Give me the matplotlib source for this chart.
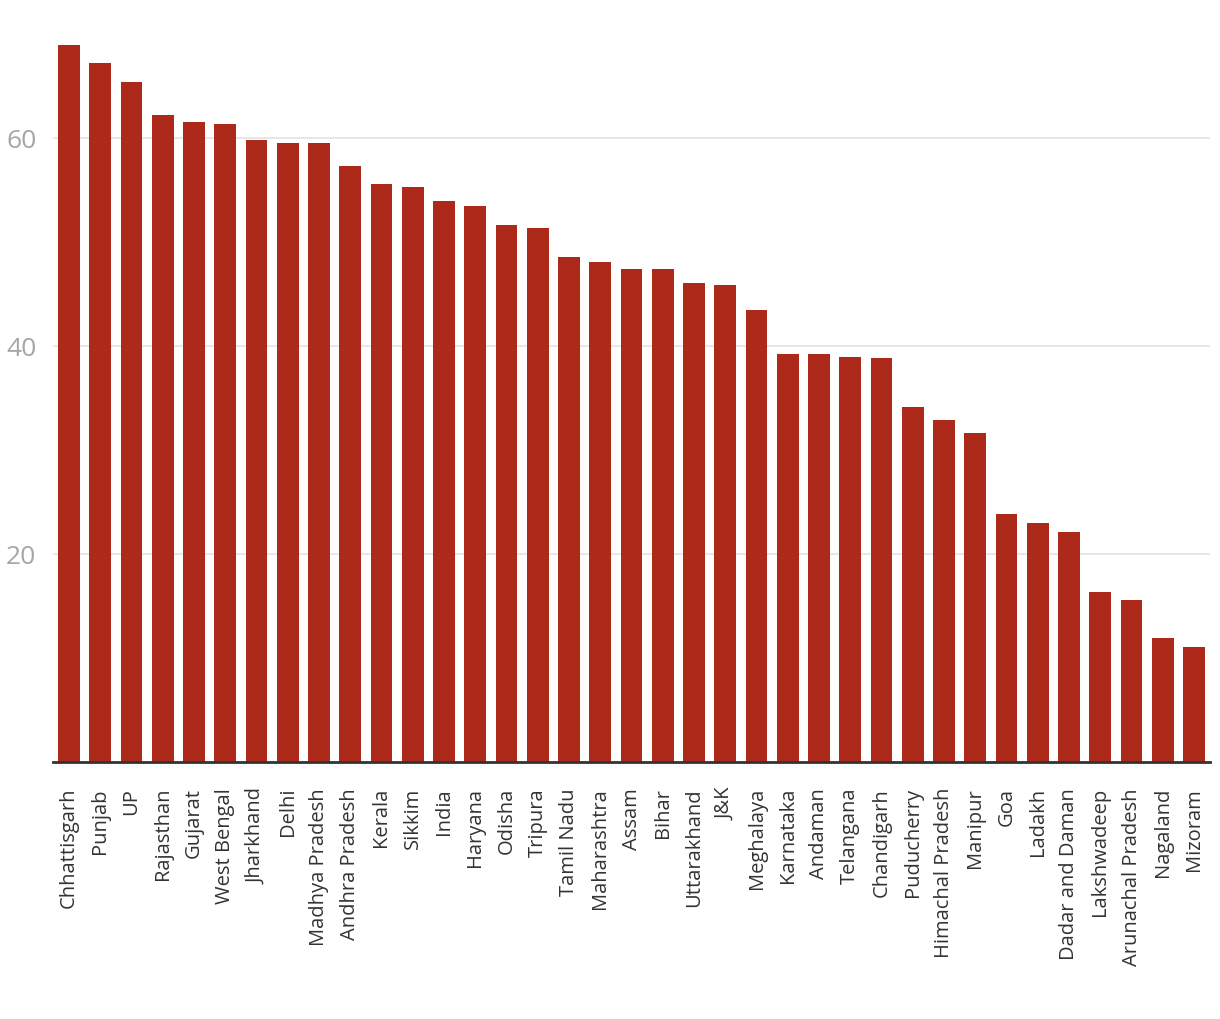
import matplotlib.pyplot as plt
from matplotlib import font_manager

states = ["Chhattisgarh", "Punjab", "UP", "Rajasthan", "Gujarat", "West Bengal",
          "Jharkhand", "Delhi", "Madhya Pradesh", "Andhra Pradesh", "Kerala",
          "Sikkim", "India", "Haryana", "Odisha", "Tripura", "Tamil Nadu",
          "Maharashtra", "Assam", "Bihar", "Uttarakhand", "J&K", "Meghalaya",
          "Karnataka", "Andaman", "Telangana", "Chandigarh", "Puducherry",
          "Himachal Pradesh", "Manipur", "Goa", "Ladakh", "Dadar and Daman",
          "Lakshwadeep", "Arunachal Pradesh", "Nagaland", "Mizoram"]
values = [68.9, 67.2, 65.4, 62.2, 61.5, 61.3, 59.8, 59.5, 59.5, 57.3, 55.6,
          55.3, 53.9, 53.5, 51.6, 51.3, 48.6, 48.1, 47.4, 47.4, 46.1, 45.9,
          43.5, 39.2, 39.2, 38.9, 38.8, 34.1, 32.9, 31.6, 23.8, 23.0, 22.1,
          16.3, 15.6, 11.9, 11.1]
yticks = [20, 40, 60]

names = {f.name for f in font_manager.fontManager.ttflist}
family = ["Liberation Sans Narrow"] if "Liberation Sans Narrow" in names else ["Open Sans"]
plt.rcParams['font.family'] = family + ["DejaVu Sans"]

fig = plt.figure(figsize=(12.2, 10.2), dpi=100)
ax = fig.add_axes([53/1220, 257/1020, 1157/1220, 728/1020])

x = range(len(states))
ax.bar(x, values, width=0.7, color="#ad2a1a", zorder=2)

ax.set_xlim(-0.51, len(states) - 0.49)
ax.set_ylim(0, 70)
ax.set_yticks(yticks)
ax.set_xticks(list(x))
ax.set_xticklabels(states, rotation=90, fontsize=14.5, color="#333333")
ax.tick_params(axis="y", length=0, pad=12, labelsize=19, labelcolor="#a6a6a6")
ax.tick_params(axis="x", length=0, pad=18)
ax.grid(axis="y", color="#e3e3e3", linewidth=1.2, zorder=0)

for side in ["left", "right", "top"]:
    ax.spines[side].set_visible(False)
ax.spines["bottom"].set_color("#333333")
ax.spines["bottom"].set_linewidth(2)
ax.spines["bottom"].set_zorder(3)

fig.savefig("out.png", dpi=100)
